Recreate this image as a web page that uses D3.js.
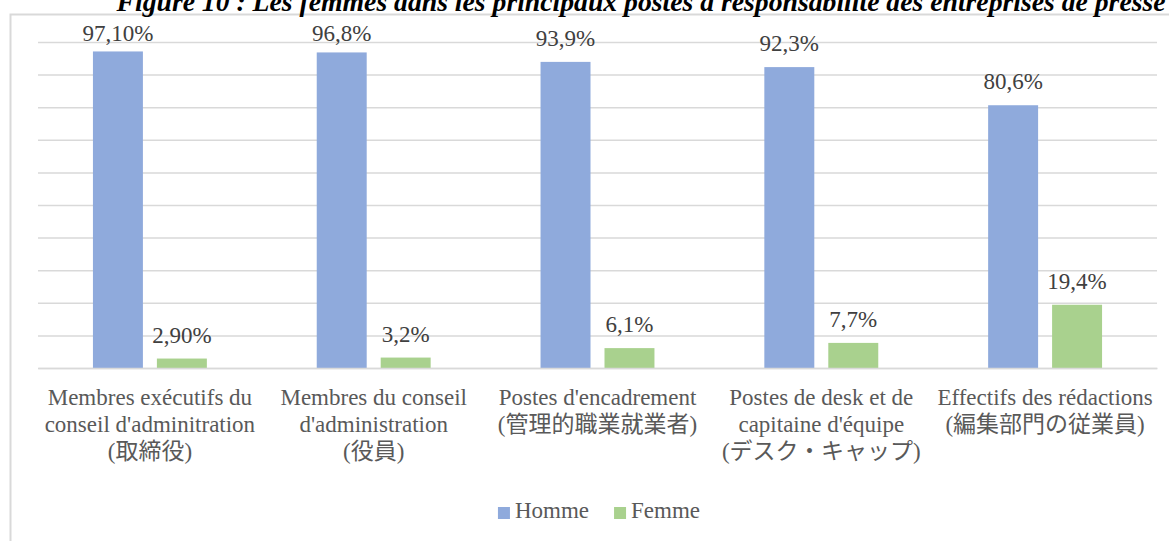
<!DOCTYPE html>
<html>
<head>
<meta charset="utf-8">
<script src="https://cdn.jsdelivr.net/npm/d3@7"></script>
<style>
	body { margin: 0; background: #fff; }
	svg { display: block; }
</style>
</head>
<body>
<svg id="chart" width="1169" height="541"></svg>
<script>
// chart data
const categories = ["exec", "board", "encadrement", "desk", "redaction"];
const categoryLines = [
	["Membres exécutifs du", "conseil d'adminitration", "(取締役)"],
	["Membres du conseil", "d'administration", "(役員)"],
	["Postes d'encadrement", "(管理的職業就業者)"],
	["Postes de desk et de", "capitaine d'équipe", "(デスク・キャップ)"],
	["Effectifs des rédactions", "(編集部門の従業員)"]
];
const seriesNames = ["Homme", "Femme"];
const hommeValues = [97.1, 96.8, 93.9, 92.3, 80.6];
const femmeValues = [2.9, 3.2, 6.1, 7.7, 19.4];
const hommeLabels = ["97,10%", "96,8%", "93,9%", "92,3%", "80,6%"];
const femmeLabels = ["2,90%", "3,2%", "6,1%", "7,7%", "19,4%"];
const yTicks = [0, 10, 20, 30, 40, 50, 60, 70, 80, 90, 100];
const title = "Figure 10 : Les femmes dans les principaux postes à responsabilité des entreprises de presse";

const colours = {"Homme": "#8faadc", "Femme": "#a9d18e"};
const serif = "'Liberation Serif', 'Noto Sans CJK JP', serif";

const svg = d3.select("#chart");
const plot = {left: 38, right: 1157, top: 42, bottom: 368};

// frame of the chart area
svg.append("path")
	.attr("d", "M10.5,541 V14.5 H1169")
	.attr("fill", "none")
	.attr("stroke", "#d9d9d9")
	.attr("stroke-width", 2);

svg.append("text")
	.attr("x", 641)
	.attr("y", 11)
	.attr("text-anchor", "middle")
	.attr("font-family", serif)
	.attr("font-weight", "bold")
	.attr("font-style", "italic")
	.attr("font-size", 27.7)
	.attr("fill", "#000")
	.text(title);

let x0 = d3.scaleBand()
		   .domain(categories)
		   .range([plot.left, plot.right]);

let x1 = d3.scaleBand()
		   .domain(seriesNames)
		   .range([0, x0.bandwidth()])
		   .paddingInner(0.21875)
		   .paddingOuter(0.859);

let y = d3.scaleLinear()
		  .domain([0, 100])
		  .range([plot.bottom, plot.top]);

// gridlines
svg.append("g")
	.attr("transform", `translate(${plot.left},0)`)
	.call(d3.axisLeft(y).tickValues(yTicks).tickSize(-(plot.right - plot.left)).tickFormat(""))
	.call(g => g.select(".domain").remove())
	.call(g => g.selectAll(".tick line").attr("stroke", "#d9d9d9").attr("stroke-width", 1.5));

const rows = categories.map((c, i) => ({
	key: c,
	values: [
		{series: "Homme", value: hommeValues[i], label: hommeLabels[i]},
		{series: "Femme", value: femmeValues[i], label: femmeLabels[i]}
	]
}));

const groups = svg.append("g")
	.selectAll("g")
	.data(rows)
	.enter()
	.append("g")
	.attr("transform", d => `translate(${x0(d.key)},0)`);

groups.selectAll("rect")
	.data(d => d.values)
	.enter()
	.append("rect")
	.attr("x", d => x1(d.series))
	.attr("y", d => y(d.value))
	.attr("width", x1.bandwidth())
	.attr("height", d => y(0) - y(d.value))
	.attr("fill", d => colours[d.series]);

groups.selectAll("text")
	.data(d => d.values)
	.enter()
	.append("text")
	.attr("x", d => x1(d.series) + x1.bandwidth() / 2)
	.attr("y", d => Math.max(y(d.value) - 16, plot.top - 1))
	.attr("text-anchor", "middle")
	.attr("font-family", serif)
	.attr("font-size", 23)
	.attr("fill", "#404040")
	.text(d => d.label);

// x axis with wrapped category labels
const xAxis = svg.append("g")
	.attr("transform", `translate(0,${plot.bottom})`)
	.call(d3.axisBottom(x0).tickSize(0).tickFormat(""))
	.attr("font-family", serif)
	.attr("font-size", 23);

xAxis.select(".domain").attr("stroke", "#d9d9d9").attr("stroke-width", 1.5);

xAxis.selectAll(".tick text").remove();
xAxis.selectAll(".tick")
	.append("text")
	.attr("text-anchor", "middle")
	.attr("fill", "#595959")
	.each(function(d, i) {
		d3.select(this).selectAll("tspan")
			.data(categoryLines[i])
			.enter()
			.append("tspan")
			.attr("x", 0)
			.attr("y", (l, j) => 37 + j * 27)
			.attr("font-family", serif)
			.attr("font-size", 23)
			.text(l => l);
	});

// legend
const legend = svg.append("g");

let lx = 0;
seriesNames.forEach((name) => {
	const item = legend.append("g").attr("transform", `translate(${lx},0)`);
	item.append("rect")
		.attr("x", 0)
		.attr("y", -11)
		.attr("width", 12)
		.attr("height", 12)
		.attr("fill", colours[name]);
	const t = item.append("text")
		.attr("x", 17)
		.attr("y", 0)
		.attr("font-family", serif)
		.attr("font-size", 23)
		.attr("fill", "#595959")
		.text(name);
	lx += 17 + t.node().getComputedTextLength() + 25;
});
lx -= 25;
legend.attr("transform", `translate(${599 - lx / 2},518)`);
</script>
</body>
</html>
